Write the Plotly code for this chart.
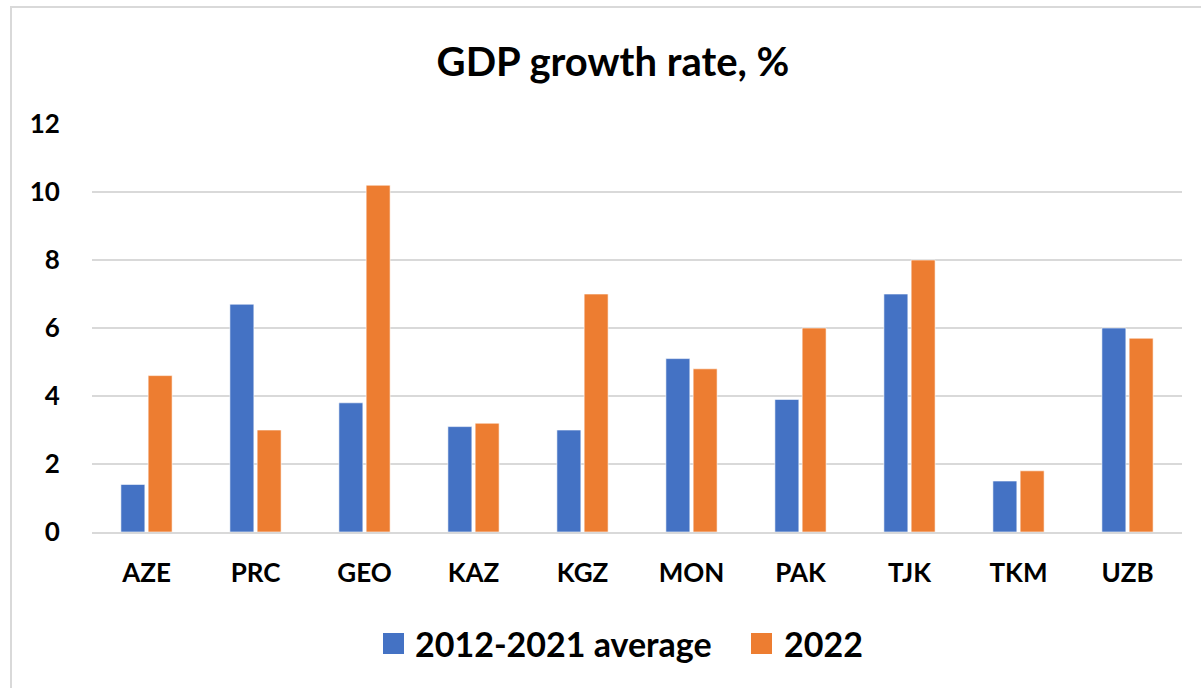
import plotly.graph_objects as go

countries = ["AZE", "PRC", "GEO", "KAZ", "KGZ", "MON", "PAK", "TJK", "TKM", "UZB"]
avg_2012_2021 = [1.4, 6.7, 3.8, 3.1, 3.0, 5.1, 3.9, 7.0, 1.5, 6.0]
growth_2022 = [4.6, 3.0, 10.2, 3.2, 7.0, 4.8, 6.0, 8.0, 1.8, 5.7]
series_names = ["2012-2021 average", "2022"]
colors = ["#4472C4", "#ED7D31"]
y_ticks = [0, 2, 4, 6, 8, 10, 12]

W, H = 1201, 688
ML, MR, MT, MB = 92, 19, 124, 156
PW, PH = W - ML - MR, H - MT - MB


def px_x(v):
    return (v - ML) / PW


def px_y(v):
    return (H - MB - v) / PH


FONT = "Lato, 'Open Sans', sans-serif"

fig = go.Figure()
for name, vals, col in zip(series_names, [avg_2012_2021, growth_2022], colors):
    fig.add_trace(go.Bar(
        x=countries, y=vals, name=name,
        marker=dict(color=col, line=dict(color="rgba(255,255,255,0.6)", width=1)),
        showlegend=False,
    ))

shapes = [
    # outer chart frame
    dict(type="rect", xref="paper", yref="paper",
         x0=px_x(11), x1=px_x(1215), y0=px_y(7), y1=px_y(700),
         line=dict(color="#D9D9D9", width=2), fillcolor="rgba(0,0,0,0)", layer="below"),
]
annotations = []

# legend drawn as swatches + labels
legend_items = [(383, 413), (751, 782)]
for (sx, tx), name, col in zip(legend_items, series_names, colors):
    shapes.append(dict(type="rect", xref="paper", yref="paper",
                       x0=px_x(sx), x1=px_x(sx + 21), y0=px_y(654), y1=px_y(633),
                       fillcolor=col, line=dict(width=0)))
    annotations.append(dict(xref="paper", yref="paper", x=px_x(tx), y=px_y(643),
                            xanchor="left", yanchor="middle", showarrow=False,
                            text=name,
                            font=dict(family=FONT, size=34, color="#000000", weight="bold")))

fig.update_layout(
    width=W, height=H,
    margin=dict(l=ML, r=MR, t=MT, b=MB),
    paper_bgcolor="white", plot_bgcolor="white",
    title=dict(text="GDP growth rate, %", x=613 / W, xanchor="center",
               y=1 - 62 / H, yanchor="middle",
               font=dict(family=FONT, size=40, color="#000000", weight="bold")),
    barmode="group", bargap=0.5, bargroupgap=0.12,
    shapes=shapes, annotations=annotations,
    font=dict(family=FONT, color="#000000"),
)
fig.update_xaxes(
    showgrid=False, showline=True, linecolor="#D9D9D9", linewidth=2,
    tickfont=dict(family=FONT, size=26, color="#000000", weight="bold"),
    ticks="outside", ticklen=17, tickcolor="rgba(0,0,0,0)",
)
fig.update_yaxes(
    range=[0, 12], tickvals=y_ticks, showgrid=True, gridcolor="#D9D9D9", gridwidth=2,
    zeroline=False, showline=False,
    tickfont=dict(family=FONT, size=26, color="#000000", weight="bold"),
    ticks="outside", ticklen=26, tickcolor="rgba(0,0,0,0)",
)

fig.write_html("out.html")
